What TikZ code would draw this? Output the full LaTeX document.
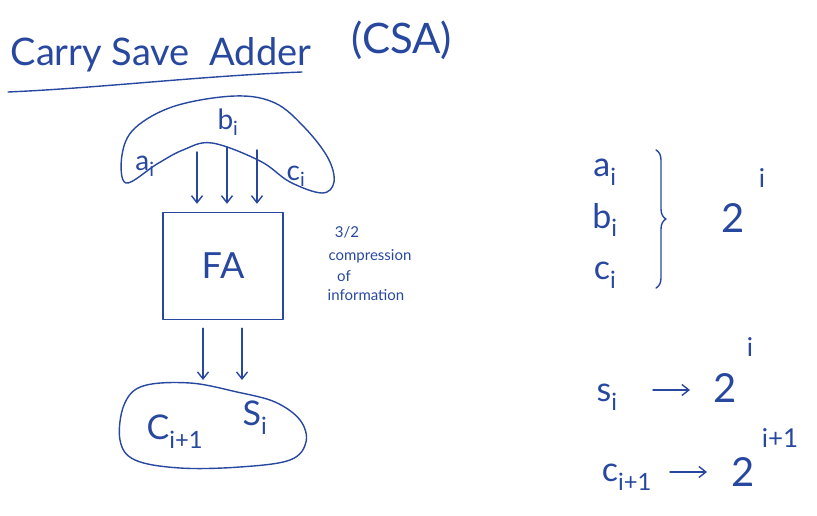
\documentclass[tikz,border=0pt]{standalone}
\usepackage{fontspec}
\setmainfont{Lato}
\usetikzlibrary{arrows.meta,decorations.pathreplacing,calc}
\definecolor{ink}{RGB}{40,72,160}
\newcommand{\sbs}[1]{\textsubscript{#1}}
\begin{document}
\begin{tikzpicture}[x=1pt,y=-1pt, draw=ink, line width=1.4pt, line cap=round, line join=round,
  every node/.style={text=ink, inner sep=0pt},
  arr/.style={-{Straight Barb[length=7pt,width=11pt]}},
  big/.style={font=\fontsize{38}{42}\selectfont},
  lab/.style={font=\fontsize{28}{32}\selectfont},
  var/.style={font=\fontsize{34}{38}\selectfont},
  small/.style={font=\fontsize{15}{18}\selectfont},
  pow/.style={font=\fontsize{40}{44}\selectfont},
  sup/.style={font=\fontsize{26}{30}\selectfont}]
\useasboundingbox (0,0) rectangle (817,516);

% title
\node[big, anchor=base west] (title) at (10,66) {Carry Save\ \ Adder};
\node[font=\fontsize{42}{46}\selectfont] (csa) at (402,40) {(CSA)};
\draw (8,92) .. controls (100,88) and (200,76) .. (302,72);

% top blob
\draw plot[smooth cycle, tension=0.6] coordinates {(126,183) (122,155) (135,128) (175,106) (235,96) (275,103) (305,128) (328,158) (334,182) (322,193) (290,182) (260,161) (212,143) (183,150) (157,164)};
\node[lab] (bi) at (228,122) {b\sbs{i}};
\node[lab] (ai) at (145,166) {a\sbs{i}};
\node[lab] (ci) at (296,176) {c\sbs{i}};

% FA
\node[draw, minimum width=120, minimum height=107, font=\fontsize{36}{40}\selectfont] (FA) at (223,266) {FA};
\coordinate (t1) at (197,152);
\coordinate (t2) at (227,147);
\coordinate (t3) at (257,150);
\foreach \t in {t1,t2,t3}
  \draw[arr, shorten >=8pt] (\t) -- (\t |- FA.north);

\node[small] (frac) at (347,232) {3/2};
\node[small] (comp) at (370,256) {compression};
\node[small] (of) at (344,276) {of};
\node[small] (info) at (366,295) {information};

% bottom blob
\coordinate (b1) at (203,380);
\coordinate (b2) at (242,380);
\draw[arr, shorten <=8pt] (b1 |- FA.south) -- (b1);
\draw[arr, shorten <=8pt] (b2 |- FA.south) -- (b2);
\draw plot[smooth cycle, tension=0.6] coordinates {(143,386) (190,383) (237,392) (275,402) (300,420) (306,442) (290,460) (240,467) (180,468) (135,460) (120,440) (124,405)};
\node[var] (cout) at (175,432) {C\sbs{i+1}};
\node[var] (si) at (255,418) {S\sbs{i}};

% right side
\node[var] (ra) at (605,172) {a\sbs{i}};
\node[var] (rb) at (605,220) {b\sbs{i}};
\node[var] (rc) at (605,275) {c\sbs{i}};
\draw[decorate, decoration={brace, amplitude=10pt}] (656,150) -- (656,288);
\node[pow] (p1) at (733,218) {2};
\node[sup] (e1) at (762,178) {i};

\node[var] (rs) at (607,397) {s\sbs{i}};
\node[pow] (p2) at (725,388) {2};
\node[sup] (e2) at (750,347) {i};
\coordinate (as1) at (653,390);
\coordinate (ae1) at (690,390);
\draw[arr] (as1) -- (ae1);

\node[var] (rco) at (627,477) {c\sbs{i+1}};
\node[pow] (p3) at (743,472) {2};
\node[sup] (e3) at (780,438) {i+1};
\coordinate (as2) at (670,472);
\coordinate (ae2) at (707,472);
\draw[arr] (as2) -- (ae2);
\end{tikzpicture}
\end{document}
